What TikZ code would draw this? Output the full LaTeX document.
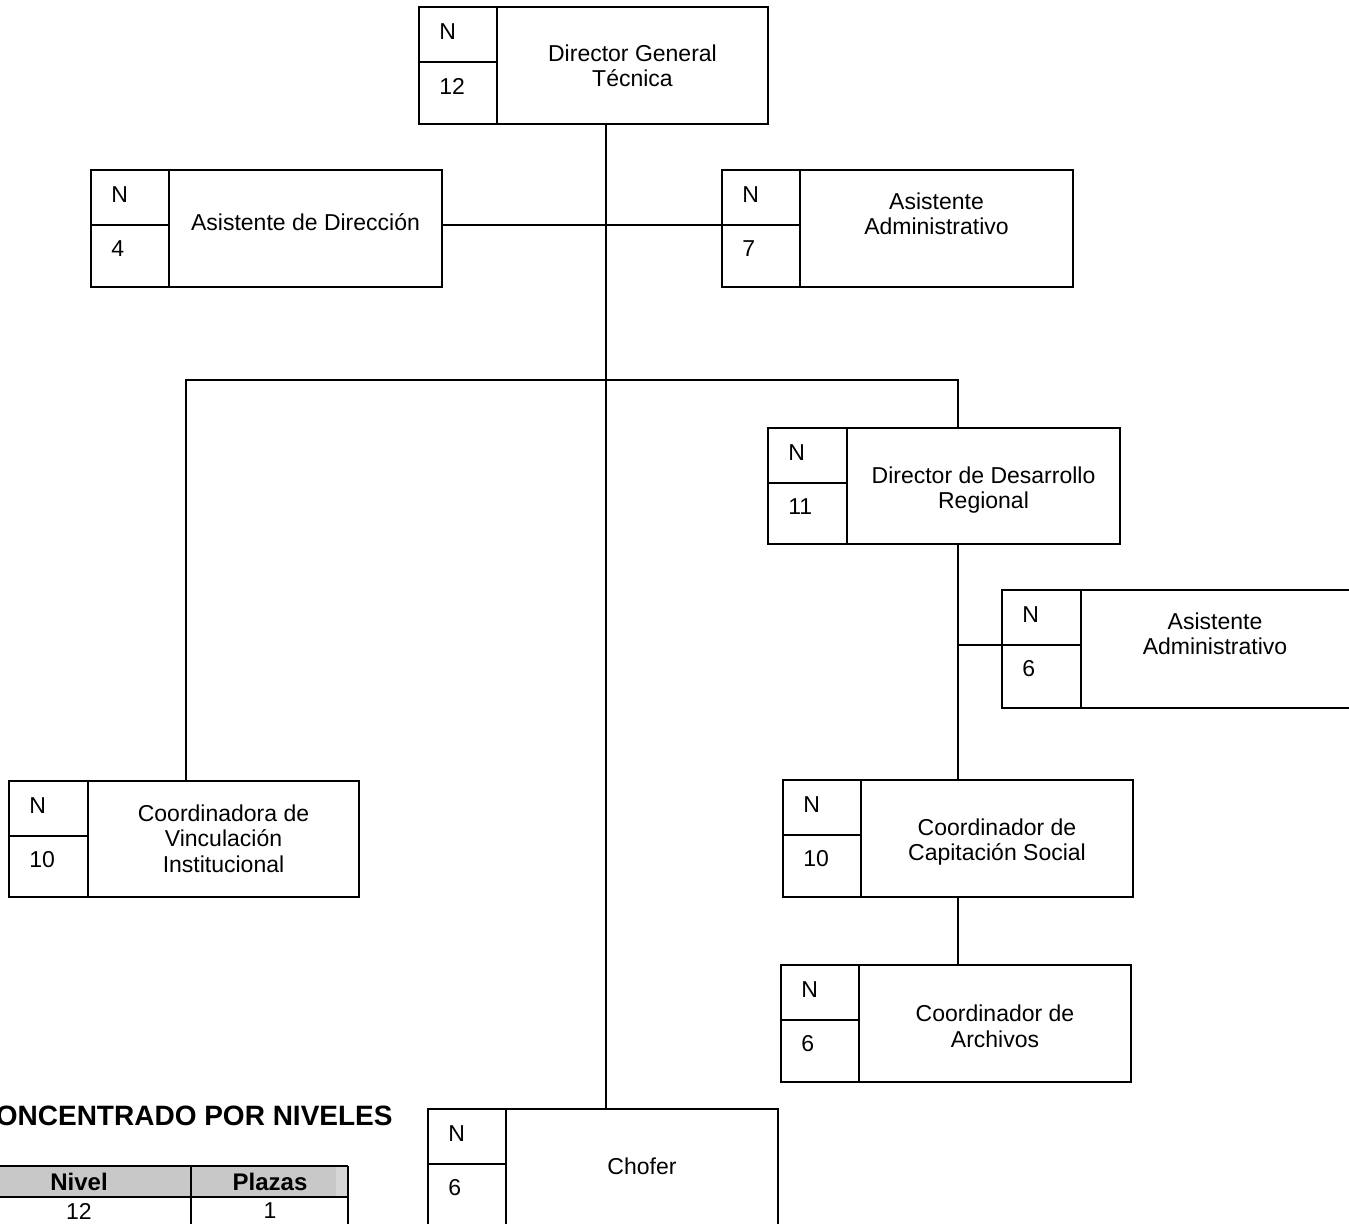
\documentclass[tikz,border=0pt]{standalone}
\usepackage{fontspec}
\setmainfont{Liberation Sans}
\definecolor{hdrgray}{RGB}{200,200,200}
\definecolor{hdrlight}{RGB}{214,214,214}
\tikzset{
  unitbox/.style={draw, line width=1pt, rectangle, inner sep=0pt},
  boxline/.style={line width=1pt},
  conn/.style={line width=1pt},
  lvl/.style={anchor=west, inner sep=0pt, font=\fontsize{11.5}{12.75}\selectfont},
  ttl/.style={align=center, inner sep=0pt, font=\fontsize{11.5}{12.75}\selectfont},
  tblhead/.style={inner sep=0pt, font=\fontsize{12}{14}\selectfont\bfseries},
  tblcell/.style={inner sep=0pt, font=\fontsize{11.5}{12.75}\selectfont},
}
% #1 name, #2 left, #3 top, #4 right, #5 bottom, #6 divider x, #7 level
\newcommand\orgbox[7]{%
  \node[unitbox, minimum width={(#4-#2)*0.5pt}, minimum height={(#5-#3)*0.5pt}] (#1) at ({(#2+#4)/2},{(#3+#5)/2}) {};
  \draw[boxline] (#6,#3) -- (#6,#5);
  \draw[boxline] (#2,#3+55) -- (#6,#3+55);
  \node[lvl] (#1-n) at (#2+20,#3+25) {N};
  \node[lvl] (#1-v) at (#2+20,#3+79) {#7};
}
\begin{document}
\begin{tikzpicture}[x=0.5pt,y=-0.5pt]
\useasboundingbox (0,0) rectangle (1349,1223);

% units
\orgbox{dgt}{419}{7}{768}{124}{497}{12}
\node[ttl] (dgt-t) at (632.5,66) {Director General\\Técnica};

\orgbox{adir}{91}{170}{442}{287}{169}{4}
\node[ttl] (adir-t) at (305.5,222) {Asistente de Dirección};

\orgbox{aadm}{722}{170}{1073}{287}{800}{7}
\node[ttl] (aadm-t) at (936.5,214) {Asistente\\Administrativo};

\orgbox{ddr}{768}{428}{1120}{544}{847}{11}
\node[ttl] (ddr-t) at (983.5,490) {Director de Desarrollo\\Regional};

\orgbox{asr}{1002}{590}{1353}{708}{1081}{6}
\node[ttl] (asr-t) at (1215,634) {Asistente\\Administrativo};

\orgbox{coordv}{9}{781}{359}{897}{88}{10}
\node[ttl] (coordv-t) at (223.5,838.5) {Coordinadora de\\Vinculación\\Institucional};

\orgbox{cap}{783}{780}{1133}{897}{861}{10}
\node[ttl] (cap-t) at (997,842) {Coordinador de\\Capitación Social};

\orgbox{arch}{781}{965}{1131}{1082}{859}{6}
\node[ttl] (arch-t) at (995,1026.5) {Coordinador de\\Archivos};

\orgbox{chofer}{428}{1109}{778}{1226}{506}{6}
\node[ttl] (chofer-t) at (642,1166) {Chofer};

% connector helper coordinates
\coordinate (trunk) at (606,0);
\coordinate (asy) at (0,225);
\coordinate (lx) at (186,380);
\coordinate (rx) at (958,380);
\coordinate (rj) at (958,645);

% connectors
\draw[conn] (dgt.south -| trunk) -- (chofer.north -| trunk);
\draw[conn] (adir.east |- asy) -- (aadm.west |- asy);
\draw[conn] (lx |- coordv.north) -- (lx) -- (rx) -- (rx |- ddr.north);
\draw[conn] (ddr.south -| rx) -- (cap.north -| rx);
\draw[conn] (rj) -- (rj -| asr.west);
\draw[conn] (cap.south -| rx) -- (arch.north -| rx);

% summary title
\node[anchor=base east, inner sep=0pt, font=\fontsize{14}{16}\selectfont\bfseries] (title) at (393,1125) {CONCENTRADO POR NIVELES};

% table
\fill[hdrgray] (-40,1166) rectangle (336,1197);
\fill[hdrlight] (336,1166) rectangle (348,1197);
\draw[line width=1pt] (-40,1166) -- (348,1166);
\draw[line width=1pt] (-40,1197) -- (348,1197);
\draw[line width=1pt] (191,1166) -- (191,1230);
\draw[line width=1pt] (348,1166) -- (348,1230);
\node[tblhead] (h1) at (79,1181.5) {Nivel};
\node[tblhead] (h2) at (270,1181.5) {Plazas};
\node[tblcell] (c1) at (79,1211) {12};
\node[tblcell] (c2) at (270,1211) {1};
\end{tikzpicture}
\end{document}
